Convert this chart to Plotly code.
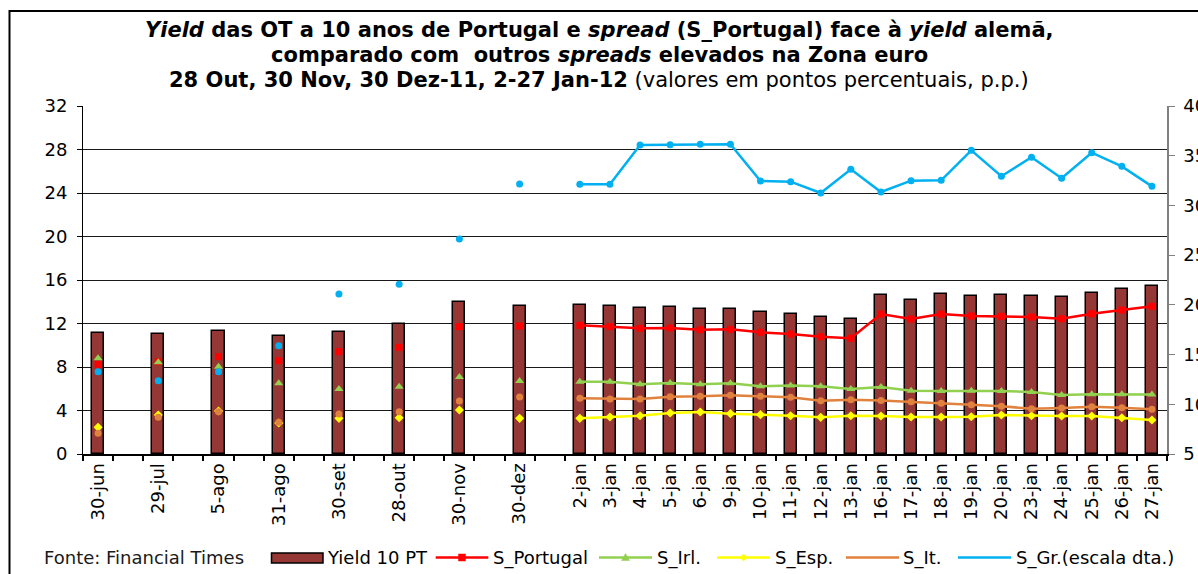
import plotly.graph_objects as go

# ---------------- data ----------------
labels = ["30-jun", "", "29-jul", "", "5-ago", "", "31-ago", "", "30-set", "", "28-out", "",
          "30-nov", "", "30-dez", "",
          "2-jan", "3-jan", "4-jan", "5-jan", "6-jan", "9-jan", "10-jan", "11-jan", "12-jan",
          "13-jan", "16-jan", "17-jan", "18-jan", "19-jan", "20-jan", "23-jan", "24-jan",
          "25-jan", "26-jan", "27-jan"]

yield10 = [11.15, None, 11.0, None, 11.28, None, 10.88, None, 11.25, None, 11.93, None,
           13.95, None, 13.58, None,
           13.7, 13.61, 13.46, 13.49, 13.3, 13.33, 13.06, 12.87, 12.63, 12.38,
           14.62, 14.16, 14.68, 14.56, 14.59, 14.56, 14.44, 14.84, 15.14, 15.45]

s_portugal = [8.25, None, 8.49, None, 8.95, None, 8.58, None, 9.41, None, 9.81, None,
              11.71, None, 11.77, None,
              11.83, 11.71, 11.56, 11.59, 11.43, 11.46, 11.19, 11.03, 10.79, 10.64,
              12.87, 12.41, 12.87, 12.69, 12.66, 12.6, 12.44, 12.9, 13.24, 13.58]

s_irl = [8.8, None, 8.43, None, 8.03, None, 6.5, None, 5.98, None, 6.19, None,
         7.08, None, 6.71, None,
         6.65, 6.65, 6.41, 6.53, 6.41, 6.5, 6.22, 6.31, 6.22, 5.98,
         6.16, 5.82, 5.79, 5.82, 5.79, 5.7, 5.43, 5.49, 5.49, 5.46]

s_esp = [2.45, None, 3.59, None, 3.95, None, 2.85, None, 3.28, None, 3.34, None,
         4.05, None, 3.28, None,
         3.28, 3.4, 3.52, 3.77, 3.86, 3.71, 3.62, 3.52, 3.37, 3.52,
         3.49, 3.4, 3.4, 3.43, 3.59, 3.52, 3.49, 3.49, 3.34, 3.13]

s_it = [1.9, None, 3.37, None, 3.89, None, 2.91, None, 3.68, None, 3.89, None,
        4.87, None, 5.24, None,
        5.12, 5.06, 5.06, 5.27, 5.3, 5.4, 5.3, 5.21, 4.9, 4.99,
        4.93, 4.81, 4.66, 4.54, 4.38, 4.17, 4.23, 4.35, 4.26, 4.11]

s_gr = [13.28, None, 12.37, None, 13.28, None, 15.89, None, 21.09, None, 22.07, None,
        26.62, None, 32.15, None,
        32.12, 32.12, 36.08, 36.11, 36.15, 36.15, 32.46, 32.39, 31.25, 33.63,
        31.35, 32.49, 32.52, 35.54, 32.93, 34.84, 32.73, 35.3, 33.93, 31.92]

left_ticks = [0, 4, 8, 12, 16, 20, 24, 28, 32]
right_ticks = [5, 10, 15, 20, 25, 30, 35, 40]

# ---------------- styles ----------------
FONT = "DejaVu Sans"
W, H = 1198, 574
L, R, T, B = 83, 1167, 106, 454
BAR = "#953735"
RED, GREEN, YELLOW, ORANGE, BLUE = "#FF0000", "#92D050", "#FFFF00", "#E0823D", "#00B0F0"

x = list(range(len(labels)))
tickvals = [i for i, s in enumerate(labels) if s]
ticktext = [s for s in labels if s]

fig = go.Figure()
fig.add_trace(go.Bar(x=x, y=yield10, width=0.4, name="Yield 10 PT",
                     marker=dict(color=BAR, line=dict(color="black", width=1.5))))

line_series = [
    ("S_Portugal", s_portugal, RED, "square", 7),
    ("S_Irl.", s_irl, GREEN, "triangle-up", 8),
    ("S_Esp.", s_esp, YELLOW, "diamond", 7),
    ("S_It.", s_it, ORANGE, "circle", 7),
]
for name, vals, col, sym, sz in line_series:
    fig.add_trace(go.Scatter(x=x, y=vals, name=name, mode="lines+markers",
                             line=dict(color=col, width=2.5),
                             marker=dict(color=col, symbol=sym, size=sz)))
fig.add_trace(go.Scatter(x=x, y=s_gr, name="S_Gr.(escala dta.)", mode="lines+markers",
                         yaxis="y2", line=dict(color=BLUE, width=2.5),
                         marker=dict(color=BLUE, symbol="circle", size=7)))


def xp(px):
    return (px - L) / (R - L)


def yp(py):
    return (B - py) / (B - T)


annotations = []
shapes = []

# Title (three centred lines)
title_lines = [
    ("<b><i>Yield</i> das OT a 10 anos de Portugal e <i>spread</i> (S_Portugal) face à <i>yield</i> alemã,</b>", 30.5),
    ("<b>comparado com  outros <i>spreads</i> elevados na Zona euro</b>", 55),
    ("<b>28 Out, 30 Nov, 30 Dez-11, 2-27 Jan-12</b> (valores em pontos percentuais, p.p.)", 79.5),
]
for txt, py in title_lines:
    annotations.append(dict(text=txt, xref="paper", yref="paper", x=xp(W / 2), y=yp(py),
                            xanchor="center", yanchor="middle", showarrow=False,
                            font=dict(family=FONT, size=21, color="black")))

# Outer frame
shapes.append(dict(type="rect", xref="paper", yref="paper",
                   x0=xp(9.5), x1=xp(W + 20), y0=yp(11), y1=yp(H + 20),
                   line=dict(color="black", width=2), layer="below"))

# Custom legend row
LY = 557.5
annotations.append(dict(text="Fonte: Financial Times", xref="paper", yref="paper",
                        x=xp(42), y=yp(LY), xanchor="left", yanchor="middle", showarrow=False,
                        font=dict(family=FONT, size=18, color="#1a1a1a")))
shapes.append(dict(type="rect", xref="paper", yref="paper",
                   x0=xp(271.5), x1=xp(323), y0=yp(553), y1=yp(563),
                   fillcolor=BAR, line=dict(color="black", width=1.5)))
annotations.append(dict(text="Yield 10 PT", xref="paper", yref="paper",
                        x=xp(325), y=yp(LY), xanchor="left", yanchor="middle", showarrow=False,
                        font=dict(family=FONT, size=18, color="black")))

legend_items = [
    ("S_Portugal", RED, "square", 435.7, 488.3, 491),
    ("S_Irl.", GREEN, "triangle", 599, 652, 655),
    ("S_Esp.", YELLOW, "diamond", 717, 770, 773),
    ("S_It.", ORANGE, "circle", 846, 899, 901),
    ("S_Gr.(escala dta.)", BLUE, "circle", 958, 1011, 1014),
]
marker_paths = {
    "square": "M-3.5,-3.5 L3.5,-3.5 L3.5,3.5 L-3.5,3.5 Z",
    "triangle": "M-4,-3 L4,-3 L0,4 Z",
    "diamond": "M0,-3.5 L3.5,0 L0,3.5 L-3.5,0 Z",
    "circle": "M3.5,0 A3.5,3.5 0 1,1 -3.5,0 A3.5,3.5 0 1,1 3.5,0 Z",
}
for name, col, sym, lx0, lx1, tx in legend_items:
    shapes.append(dict(type="line", xref="paper", yref="paper",
                       x0=xp(lx0), x1=xp(lx1), y0=yp(LY), y1=yp(LY),
                       line=dict(color=col, width=2.5)))
    shapes.append(dict(type="path", xref="paper", yref="paper",
                       xsizemode="pixel", ysizemode="pixel",
                       xanchor=xp((lx0 + lx1) / 2), yanchor=yp(LY),
                       path=marker_paths[sym], fillcolor=col, line=dict(color=col, width=0.5)))
    annotations.append(dict(text=name, xref="paper", yref="paper",
                            x=xp(tx), y=yp(LY), xanchor="left", yanchor="middle", showarrow=False,
                            font=dict(family=FONT, size=18, color="black")))

fig.update_layout(
    width=W, height=H, autosize=False,
    margin=dict(l=L, r=W - R, t=T, b=H - B, pad=0, autoexpand=False),
    paper_bgcolor="white", plot_bgcolor="white",
    font=dict(family=FONT, size=18, color="black"),
    showlegend=False,
    bargap=0,
    xaxis=dict(range=[-0.5, len(labels) - 0.5], tickmode="array", tickvals=tickvals,
               ticktext=ticktext, tickangle=-90, ticks="", showgrid=False, zeroline=False,
               showline=True, linecolor="black", linewidth=2, automargin=False,
               tickfont=dict(family=FONT, size=18, color="black"),
               minor=dict(tickmode="array", tickvals=[i - 0.5 for i in range(len(labels) + 1)],
                          ticks="outside", ticklen=5, tickwidth=1.5, tickcolor="black",
                          showgrid=False)),
    yaxis=dict(range=[0, 32], tickmode="array", tickvals=left_ticks, showgrid=True,
               gridcolor="#1a1a1a", gridwidth=1, zeroline=False, showline=True,
               linecolor="black", linewidth=1, ticks="outside", ticklen=5, tickcolor="black",
               ticklabelstandoff=6, automargin=False,
               tickfont=dict(family=FONT, size=18, color="black")),
    yaxis2=dict(range=[5, 40], tickmode="array", tickvals=right_ticks, overlaying="y",
                side="right", showgrid=False, zeroline=False, showline=True,
                linecolor="#808080", linewidth=1.5, ticks="outside", ticklen=6,
                ticklabelstandoff=5, automargin=False,
                tickcolor="#808080", tickfont=dict(family=FONT, size=18, color="black")),
    annotations=annotations,
    shapes=shapes,
)

fig.write_html("out.html", config={"displayModeBar": False},
               post_script="document.body.style.margin='0';document.body.style.overflow='hidden';")
